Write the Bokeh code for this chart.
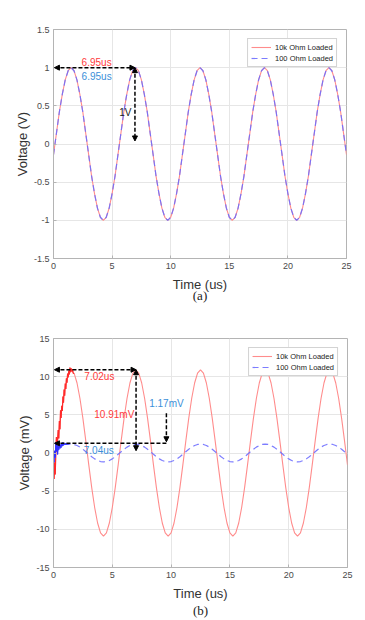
from bokeh.plotting import figure
from bokeh.models import Range1d, Legend, LegendItem, Arrow, NormalHead, Label, FixedTicker, LinearAxis
from bokeh.layouts import column
from bokeh.embed import file_html
from bokeh.resources import INLINE

# ---------------- data ----------------
time_us = [0.0, 0.25, 0.5, 0.75, 1.0, 1.25, 1.5, 1.75, 2.0, 2.25, 2.5, 2.75, 3.0, 3.25, 3.5, 3.75,
           4.0, 4.25, 4.5, 4.75, 5.0, 5.25, 5.5, 5.75, 6.0, 6.25, 6.5, 6.75, 7.0, 7.25, 7.5, 7.75,
           8.0, 8.25, 8.5, 8.75, 9.0, 9.25, 9.5, 9.75, 10.0, 10.25, 10.5, 10.75, 11.0, 11.25, 11.5,
           11.75, 12.0, 12.25, 12.5, 12.75, 13.0, 13.25, 13.5, 13.75, 14.0, 14.25, 14.5, 14.75, 15.0,
           15.25, 15.5, 15.75, 16.0, 16.25, 16.5, 16.75, 17.0, 17.25, 17.5, 17.75, 18.0, 18.25, 18.5,
           18.75, 19.0, 19.25, 19.5, 19.75, 20.0, 20.25, 20.5, 20.75, 21.0, 21.25, 21.5, 21.75, 22.0,
           22.25, 22.5, 22.75, 23.0, 23.25, 23.5, 23.75, 24.0, 24.25, 24.5, 24.75, 25.0]

# (a) normalised output, volts
a_10k = [-0.14, 0.14, 0.42, 0.65, 0.84, 0.96, 1.0, 0.96, 0.84, 0.65, 0.42, 0.14, -0.14, -0.42, -0.65,
         -0.84, -0.96, -1.0, -0.96, -0.84, -0.65, -0.42,
         -0.14, 0.14, 0.42, 0.65, 0.84, 0.96, 1.0, 0.96, 0.84, 0.65, 0.42, 0.14, -0.14, -0.42, -0.65,
         -0.84, -0.96, -1.0, -0.96, -0.84, -0.65, -0.42,
         -0.14, 0.14, 0.42, 0.65, 0.84, 0.96, 1.0, 0.96, 0.84, 0.65, 0.42, 0.14, -0.14, -0.42, -0.65,
         -0.84, -0.96, -1.0, -0.96, -0.84, -0.65, -0.42,
         -0.14, 0.14, 0.42, 0.65, 0.84, 0.96, 1.0, 0.96, 0.84, 0.65, 0.42, 0.14, -0.14, -0.42, -0.65,
         -0.84, -0.96, -1.0, -0.96, -0.84, -0.65, -0.42,
         -0.14, 0.14, 0.42, 0.65, 0.84, 0.96, 1.0, 0.96, 0.84, 0.65, 0.42, 0.14, -0.14]
a_100 = [-0.14, 0.14, 0.42, 0.65, 0.84, 0.96, 1.0, 0.96, 0.84, 0.65, 0.42, 0.14, -0.14, -0.42, -0.65,
         -0.84, -0.96, -1.0, -0.96, -0.84, -0.65, -0.42,
         -0.14, 0.14, 0.42, 0.65, 0.84, 0.96, 1.0, 0.96, 0.84, 0.65, 0.42, 0.14, -0.14, -0.42, -0.65,
         -0.84, -0.96, -1.0, -0.96, -0.84, -0.65, -0.42,
         -0.14, 0.14, 0.42, 0.65, 0.84, 0.96, 1.0, 0.96, 0.84, 0.65, 0.42, 0.14, -0.14, -0.42, -0.65,
         -0.84, -0.96, -1.0, -0.96, -0.84, -0.65, -0.42,
         -0.14, 0.14, 0.42, 0.65, 0.84, 0.96, 1.0, 0.96, 0.84, 0.65, 0.42, 0.14, -0.14, -0.42, -0.65,
         -0.84, -0.96, -1.0, -0.96, -0.84, -0.65, -0.42,
         -0.14, 0.14, 0.42, 0.65, 0.84, 0.96, 1.0, 0.96, 0.84, 0.65, 0.42, 0.14, -0.14]

# (b) raw output, millivolts: noisy start-up, then steady part from t = 2.0 us
b_10k_start_t = [0.0, 0.05, 0.1, 0.15, 0.2, 0.25, 0.3, 0.35, 0.4, 0.45, 0.5, 0.55, 0.6, 0.65, 0.7,
                 0.75, 0.8, 0.85, 0.9, 0.95, 1.0, 1.05, 1.1, 1.15, 1.2, 1.25, 1.3, 1.35, 1.4, 1.45,
                 1.5, 1.55, 1.6, 1.65, 1.7, 1.75]
b_10k_start_v = [-2.0, -3.4, -1.2, -2.8, 0.5, 2.1, 0.2, 1.8, 3.0, 1.9, 4.2, 3.1, 5.6, 4.6, 6.2,
                 5.5, 7.4, 6.6, 8.3, 7.5, 9.1, 8.4, 9.8, 9.2, 10.4, 9.9, 10.8, 10.3, 11.2, 10.6,
                 11.1, 10.7, 11.0, 10.6, 10.4, 10.46]
b_10k_steady = [9.17, 7.14, 4.53, 1.55, -1.55, -4.53, -7.14, -9.17, -10.46, -10.9, -10.46, -9.17,
                -7.14, -4.53,
                -1.55, 1.55, 4.53, 7.14, 9.17, 10.46, 10.9, 10.46, 9.17, 7.14, 4.53, 1.55, -1.55,
                -4.53, -7.14, -9.17, -10.46, -10.9, -10.46, -9.17, -7.14, -4.53,
                -1.55, 1.55, 4.53, 7.14, 9.17, 10.46, 10.9, 10.46, 9.17, 7.14, 4.53, 1.55, -1.55,
                -4.53, -7.14, -9.17, -10.46, -10.9, -10.46, -9.17, -7.14, -4.53,
                -1.55, 1.55, 4.53, 7.14, 9.17, 10.46, 10.9, 10.46, 9.17, 7.14, 4.53, 1.55, -1.55,
                -4.53, -7.14, -9.17, -10.46, -10.9, -10.46, -9.17, -7.14, -4.53,
                -1.55, 1.55, 4.53, 7.14, 9.17, 10.46, 10.9, 10.46, 9.17, 7.14, 4.53, 1.55, -1.55]

b_100_start_t = [0.0, 0.05, 0.1, 0.15, 0.2, 0.25, 0.3, 0.35, 0.4, 0.45, 0.5, 0.55, 0.6, 0.65, 0.7,
                 0.75, 0.8, 0.85, 0.9, 0.95, 1.0, 1.05, 1.1, 1.15, 1.2, 1.25]
b_100_start_v = [-0.5, -1.2, 0.3, -0.6, 1.4, 0.2, 1.2, -0.2, 0.9, 0.4, 1.3, 0.6, 1.1, 0.7, 1.3,
                 0.9, 1.4, 1.0, 1.2, 1.1, 1.3, 1.05, 1.25, 1.1, 1.2, 1.12]
b_100_steady = [1.17, 1.12, 0.98, 0.77, 0.49, 0.17, -0.17, -0.49, -0.77, -0.98, -1.12, -1.17, -1.12,
                -0.98, -0.77, -0.49,
                -0.17, 0.17, 0.49, 0.77, 0.98, 1.12, 1.17, 1.12, 0.98, 0.77, 0.49, 0.17, -0.17,
                -0.49, -0.77, -0.98, -1.12, -1.17, -1.12, -0.98, -0.77, -0.49,
                -0.17, 0.17, 0.49, 0.77, 0.98, 1.12, 1.17, 1.12, 0.98, 0.77, 0.49, 0.17, -0.17,
                -0.49, -0.77, -0.98, -1.12, -1.17, -1.12, -0.98, -0.77, -0.49,
                -0.17, 0.17, 0.49, 0.77, 0.98, 1.12, 1.17, 1.12, 0.98, 0.77, 0.49, 0.17, -0.17,
                -0.49, -0.77, -0.98, -1.12, -1.17, -1.12, -0.98, -0.77, -0.49,
                -0.17, 0.17, 0.49, 0.77, 0.98, 1.12, 1.17, 1.12, 0.98, 0.77, 0.49, 0.17, -0.17]

series_names = ["10k Ohm Loaded", "100 Ohm Loaded"]
captions = ["(a)", "(b)"]
x_ticks = [0, 5, 10, 15, 20, 25]
x_tick_labels = ["0", "5", "10", "15", "20", "25"]
a_y_ticks = [-1.5, -1, -0.5, 0, 0.5, 1, 1.5]
a_y_tick_labels = ["-1.5", "-1", "-0.5", "0", "0.5", "1", "1.5"]
b_y_ticks = [-15, -10, -5, 0, 5, 10, 15]
b_y_tick_labels = ["-15", "-10", "-5", "0", "5", "10", "15"]

# annotation values
a_peak_time = 6.95
a_peak_v = 1.0
a_zero_v = 0.0
b_peak_time = 7.02
b_peak_10k = 10.91
b_peak_100 = 1.17
b_base_v = 0.3
b_marker_x = 9.6
b_marker_top = 5.2

RED = "#ff8c8c"
RED_STRONG = "#ff2a2a"
BLUE = "#6e6eff"
TXT_RED = "#ff3b3b"
TXT_BLUE = "#3b8fd9"
FONT = "Liberation Sans"


def make_fig(y0, y1, yticks, ylabels, ylabel, caption, cap_standoff, left, fw, top, bottom):
    p = figure(frame_width=fw, frame_height=229, min_border_left=left,
               min_border_right=360 - left - fw,
               min_border_top=top, min_border_bottom=bottom,
               x_range=Range1d(0, 25), y_range=Range1d(y0, y1),
               output_backend="svg", toolbar_location=None)
    p.xaxis.ticker = FixedTicker(ticks=x_ticks)
    p.xaxis.major_label_overrides = {t: l for t, l in zip(x_ticks, x_tick_labels)}
    p.yaxis.ticker = FixedTicker(ticks=yticks)
    p.yaxis.major_label_overrides = {t: l for t, l in zip(yticks, ylabels)}
    p.xaxis.axis_label = "Time (us)"
    p.yaxis.axis_label = ylabel
    for ax in (p.xaxis, p.yaxis):
        ax.axis_label_text_font = FONT
        ax.axis_label_text_font_size = "13px"
        ax.axis_label_text_font_style = "normal"
        ax.axis_label_text_color = "#333333"
        ax.major_label_text_font = FONT
        ax.major_label_text_font_size = "9px"
        ax.major_label_text_color = "#4a4a4a"
        ax.axis_line_color = "#b4b4b4"
        ax.major_tick_line_color = "#b4b4b4"
        ax.major_tick_in = 3
        ax.major_tick_out = 0
        ax.minor_tick_line_color = None
        ax.major_label_standoff = 4
    p.xaxis.axis_label_standoff = 5
    p.yaxis.axis_label_standoff = 1
    p.xgrid.grid_line_color = "#e6e6e6"
    p.ygrid.grid_line_color = "#e6e6e6"
    p.outline_line_color = "#b4b4b4"
    p.background_fill_color = "white"
    p.border_fill_color = "white"
    # caption "(a)" / "(b)" as the label of an otherwise empty axis below
    cap = LinearAxis(axis_label=caption, axis_label_text_font="Liberation Serif",
                     axis_label_text_font_size="13px", axis_label_text_font_style="normal",
                     axis_label_text_color="#222222", axis_label_standoff=cap_standoff,
                     axis_line_color=None, major_tick_line_color=None,
                     minor_tick_line_color=None, major_label_text_font_size="0px",
                     major_label_standoff=0, major_tick_in=0, major_tick_out=0,
                     ticker=FixedTicker(ticks=[]))
    p.add_layout(cap, "below")
    return p


def arrow(p, x0, y0, x1, y1, start=True, end=True):
    def head():
        return NormalHead(size=5, fill_color="black", line_color="black", line_width=1)
    p.add_layout(Arrow(x_start=x0, y_start=y0, x_end=x1, y_end=y1,
                       start=head() if start else None, end=head() if end else None,
                       line_color="black", line_width=1.5, line_dash="4 2"))


def label(p, x, y, text, color, font=FONT, size="10px"):
    p.add_layout(Label(x=x, y=y, text=text, text_color=color, text_font=font,
                       text_font_size=size, text_align="center", text_baseline="middle"))


def legend(p, r1, r2):
    lg = Legend(items=[LegendItem(label=series_names[0], renderers=[r1]),
                       LegendItem(label=series_names[1], renderers=[r2])],
                location="top_right", margin=9, padding=3, spacing=1,
                label_text_font=FONT, label_text_font_size="7.5px", label_text_color="#222222",
                label_height=10, glyph_height=10, glyph_width=20, label_standoff=4,
                border_line_color="#a8a8a8", border_line_width=1, background_fill_alpha=1)
    p.add_layout(lg)


# ---------------- (a) ----------------
pa = make_fig(-1.5, 1.5, a_y_ticks, a_y_tick_labels, "Voltage (V)", captions[0], -7,
              53, 293, 29, 47)
ra1 = pa.line(time_us, a_10k, line_color=RED, line_width=1.1)
ra2 = pa.line(time_us, a_100, line_color=BLUE, line_width=1.2, line_dash="6 4", line_alpha=0.9)
legend(pa, ra1, ra2)
arrow(pa, 0.08, a_peak_v, a_peak_time, a_peak_v)
arrow(pa, a_peak_time, a_peak_v, a_peak_time, a_zero_v + 0.04)
label(pa, 3.68, 1.065, f"{a_peak_time:.2f}us", TXT_RED)
label(pa, 3.68, 0.885, f"{a_peak_time:.2f}us", TXT_BLUE)
label(pa, 6.13, 0.41, "1V", "#222222")

# ---------------- (b) ----------------
pb = make_fig(-15, 15, b_y_ticks, b_y_tick_labels, "Voltage (mV)", captions[1], -1,
              52, 294, 33, 52)
b10_t = b_10k_start_t + time_us[8:]
b10_v = b_10k_start_v + b_10k_steady
b100_t = b_100_start_t + time_us[6:]
b100_v = b_100_start_v + b_100_steady
rb1 = pb.line(b10_t, b10_v, line_color=RED, line_width=1.1)
pb.line(b_10k_start_t, b_10k_start_v, line_color=RED_STRONG, line_width=1.2)
rb2 = pb.line(b100_t, b100_v, line_color=BLUE, line_width=1.2, line_dash="6 4", line_alpha=0.9)
pb.line(b_100_start_t, b_100_start_v, line_color="#3030ff", line_width=1.0)
legend(pb, rb1, rb2)
arrow(pb, 0.08, b_peak_10k, b_peak_time, b_peak_10k)
arrow(pb, b_peak_time, b_peak_10k, b_peak_time, b_base_v)
arrow(pb, 0.08, b_peak_100 + 0.1, b_marker_x, b_peak_100 + 0.1, start=True, end=False)
arrow(pb, b_marker_x, b_marker_top, b_marker_x, b_peak_100 + 0.3, start=False, end=True)
label(pb, 3.9, 10.0, f"{b_peak_time:.2f}us", TXT_RED)
label(pb, 5.17, 5.1, f"{b_peak_10k:.2f}mV", TXT_RED)
label(pb, 9.6, 6.5, f"{b_peak_100:.2f}mV", TXT_BLUE)
label(pb, 3.85, 0.3, "7.04us", TXT_BLUE)

layout = column(pa, pb, spacing=0)
open("out.html", "w").write(file_html(layout, INLINE))
